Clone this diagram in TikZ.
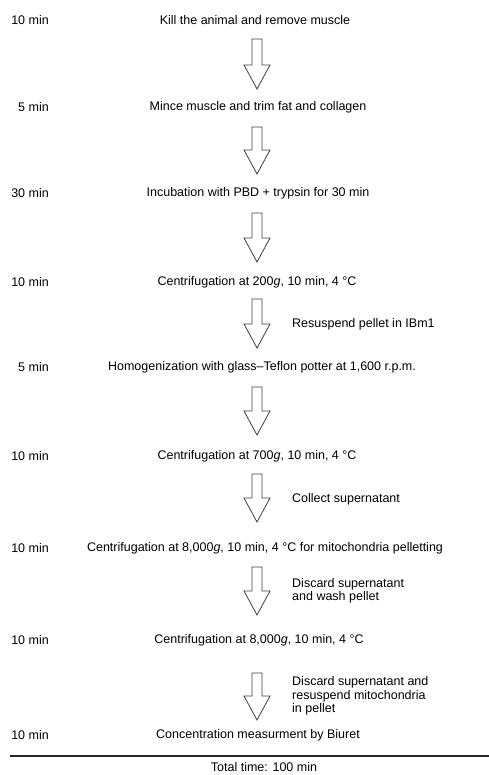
\documentclass[tikz,border=0pt]{standalone}
\usepackage{fontspec}
\setmainfont{Liberation Sans}
\usetikzlibrary{calc}
\tikzset{
  steptext/.style={anchor=center, inner sep=0pt, font=\fontsize{12.5}{14}\selectfont},
  timetext/.style={anchor=east, inner sep=0pt, font=\fontsize{12.5}{14}\selectfont},
  sidetext/.style={anchor=west, inner sep=0pt, align=left, font=\fontsize{12.5}{13.5}\selectfont},
  blk/.style={draw=black!75, line width=0.8pt, fill=white, line join=miter},
  rule/.style={line width=2pt, black!85}
}
\newcommand{\blockarrow}[2]{%
  \draw[blk] ($(#1)+(-5,0)$) -- ($(#1)+(5,0)$) -- ($(#2)+(5,-24)$) -- ($(#2)+(13,-24)$)
    -- (#2) -- ($(#2)+(-13,-24)$) -- ($(#2)+(-5,-24)$) -- cycle;}
\begin{document}
\begin{tikzpicture}[x=1pt,y=-1pt]
\useasboundingbox (0,0) rectangle (489,775);
% time column
\node[timetext] (t1) at (49,20) {10 min};
\node[timetext] (t2) at (49,107) {5 min};
\node[timetext] (t3) at (49,193) {30 min};
\node[timetext] (t4) at (49,282) {10 min};
\node[timetext] (t5) at (49,367) {5 min};
\node[timetext] (t6) at (49,456) {10 min};
\node[timetext] (t7) at (49,548) {10 min};
\node[timetext] (t8) at (49,640) {10 min};
\node[timetext] (t9) at (49,735) {10 min};
% steps
\node[steptext] (s1) at (255,20) {Kill the animal and remove muscle};
\node[steptext] (s2) at (258,107) {Mince muscle and trim fat and collagen};
\node[steptext] (s3) at (258,193) {Incubation with PBD + trypsin for 30 min};
\node[steptext] (s4) at (257,282) {Centrifugation at 200\textit{g}, 10 min, 4 °C};
\node[steptext] (s5) at (262,367) {Homogenization with glass–Teflon potter at 1,600 r.p.m.};
\node[steptext] (s6) at (257,456) {Centrifugation at 700\textit{g}, 10 min, 4 °C};
\node[steptext] (s7) at (265,548) {Centrifugation at 8,000\textit{g}, 10 min, 4 °C for mitochondria pelletting};
\node[steptext] (s8) at (259,640) {Centrifugation at 8,000\textit{g}, 10 min, 4 °C};
\node[steptext] (s9) at (258,735) {Concentration measurment by Biuret};
% arrow ends
\coordinate (a1s) at (257,39);  \coordinate (a1e) at (257,89);
\coordinate (a2s) at (257,127); \coordinate (a2e) at (257,174);
\coordinate (a3s) at (257,213); \coordinate (a3e) at (257,262);
\coordinate (a4s) at (257,299); \coordinate (a4e) at (257,348);
\coordinate (a5s) at (257,387); \coordinate (a5e) at (257,435);
\coordinate (a6s) at (257,474); \coordinate (a6e) at (257,522);
\coordinate (a7s) at (257,567); \coordinate (a7e) at (257,615);
\coordinate (a8s) at (257,673); \coordinate (a8e) at (257,720);
\blockarrow{a1s}{a1e}
\blockarrow{a2s}{a2e}
\blockarrow{a3s}{a3e}
\blockarrow{a4s}{a4e}
\blockarrow{a5s}{a5e}
\blockarrow{a6s}{a6e}
\blockarrow{a7s}{a7e}
\blockarrow{a8s}{a8e}
% side labels
\node[sidetext] (l4) at (292,324) {Resuspend pellet in IBm1};
\node[sidetext] (l6) at (292,499) {Collect supernatant};
\node[sidetext] (l7) at (292,591) {Discard supernatant\\and wash pellet};
\node[sidetext] (l8) at (292,696) {Discard supernatant and\\resuspend mitochondria\\in pellet};
% total
\coordinate (r1) at (10,756);
\coordinate (r2) at (489,756);
\draw[rule] (r1) -- (r2);
\node[steptext] (tot) at (264,767) {Total time: 100 min};
\end{tikzpicture}
\end{document}
